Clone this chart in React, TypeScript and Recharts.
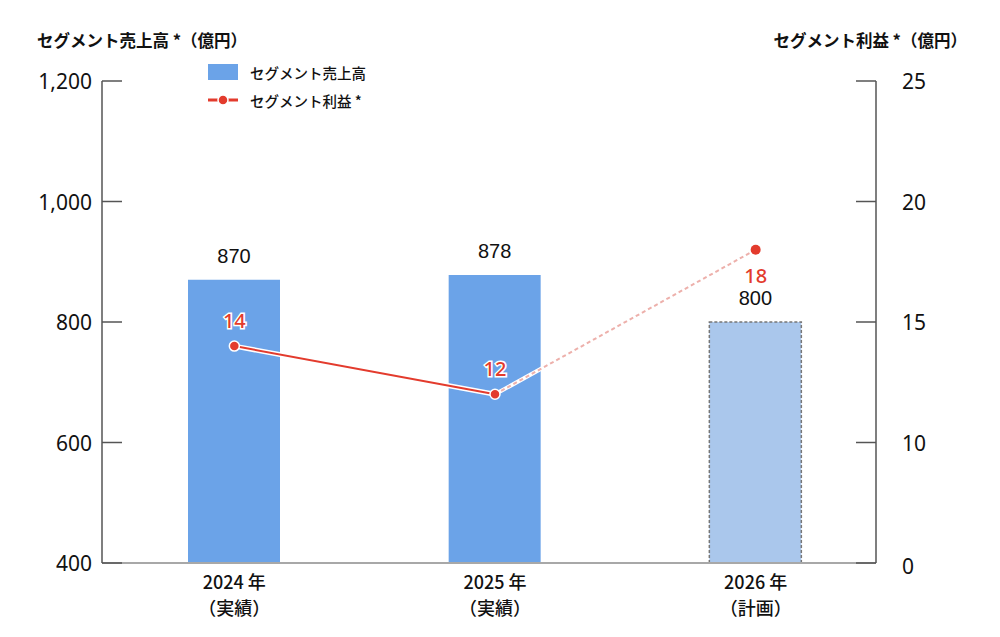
import React from 'react';
import {
  ComposedChart,
  Bar,
  Line,
  Cell,
  XAxis,
  YAxis,
  LabelList,
} from 'recharts';

const categories = ['2024 年', '2025 年', '2026 年'];
const periodNotes = ['（実績）', '（実績）', '（計画）'];
const sales = [870, 878, 800];
const profit = [14, 12, 18];
const isPlan = [false, false, true];

const salesTicks = [400, 600, 800, 1000, 1200];
const profitTicks = [5, 10, 15, 20, 25];
const profitTickLabels = ['0', '10', '15', '20', '25'];

const lastActual = isPlan.lastIndexOf(false);

const data = categories.map((c, i) => ({
  name: c,
  sales: sales[i],
  actual: isPlan[i] ? null : profit[i],
  plan: isPlan[i] || i === lastActual ? profit[i] : null,
}));

const FONT = '"Noto Sans CJK JP", "Noto Sans", sans-serif';
const NUM_FONT = '"Noto Sans", "Open Sans", sans-serif';
const BLUE = '#6BA3E8';
const BLUE_PLAN = '#AAC7EC';
const RED = '#E33B2D';
const PINK = '#EDB0AB';
const AXIS = '#555';

const LeftTick = (props: any) => {
  const { x, y, payload } = props;
  const ax = x + 10;
  return (
    <g>
      <line x1={ax} x2={ax + 20} y1={y} y2={y} stroke={AXIS} strokeWidth={1.5} />
      <text x={x} y={y} dy={8} textAnchor="end" fontSize={21} fill="#111" fontFamily={NUM_FONT}>
        {payload.value.toLocaleString('en-US')}
      </text>
    </g>
  );
};

const RightTick = (props: any) => {
  const { x, y, payload, index } = props;
  const ax = x - 26;
  return (
    <g>
      <line x1={ax - 20} x2={ax} y1={y} y2={y} stroke={AXIS} strokeWidth={1.5} />
      <text x={x} y={y} dy={payload.value === 5 ? 11 : 8} textAnchor="start" fontSize={21} fill="#111" fontFamily={NUM_FONT}>
        {profitTickLabels[index]}
      </text>
    </g>
  );
};

const CategoryTick = (props: any) => {
  const { x, y, payload, index } = props;
  return (
    <g>
      <text x={x} y={y} dy={18} textAnchor="middle" fontSize={18} fontWeight={500} fill="#111" fontFamily={FONT}>
        {payload.value}
      </text>
      <text x={x} y={y} dy={44} textAnchor="middle" fontSize={18} fontWeight={500} fill="#111" fontFamily={FONT}>
        {periodNotes[index]}
      </text>
    </g>
  );
};

const ProfitLabel = (props: any) => {
  const { x, y, value, index } = props;
  if (value == null) return null;
  const below = isPlan[index];
  return (
    <text
      x={x}
      y={below ? y + 33 : y - 18}
      textAnchor="middle"
      fontSize={20}
      fontWeight={500}
      fill={RED}
      stroke={below ? 'none' : '#fff'}
      strokeWidth={3}
      paintOrder="stroke"
      fontFamily={NUM_FONT}
    >
      {value}
    </text>
  );
};

const PlanDot = (props: any) => {
  const { cx, cy, index } = props;
  if (!isPlan[index]) return null;
  return <circle key={index} cx={cx} cy={cy} r={5} fill={RED} />;
};

export default function App() {
  return (
    <div
      style={{
        position: 'absolute',
        top: 0,
        left: 0,
        width: 1000,
        height: 637,
        background: '#fff',
        fontFamily: FONT,
      }}
    >
      {/* axis titles */}
      <div style={{ position: 'absolute', left: 37, top: 28, fontSize: 16.5, fontWeight: 600, color: '#111' }}>
        セグメント売上高 *（億円）
      </div>
      <div style={{ position: 'absolute', right: 33, top: 28, fontSize: 16.5, fontWeight: 600, color: '#111' }}>
        セグメント利益 *（億円）
      </div>

      {/* legend */}
      <div style={{ position: 'absolute', left: 208, top: 62, fontSize: 14.5, fontWeight: 500, color: '#111' }}>
        <div style={{ display: 'flex', alignItems: 'center', height: 20 }}>
          <span style={{ width: 30, height: 16, background: BLUE, display: 'inline-block', marginRight: 12 }} />
          セグメント売上高
        </div>
        <div style={{ display: 'flex', alignItems: 'center', height: 20, marginTop: 8 }}>
          <svg width={30} height={12} style={{ marginRight: 12 }}>
            <line x1={0} x2={30} y1={6} y2={6} stroke={RED} strokeWidth={3} />
            <circle cx={15} cy={6} r={5} fill={RED} stroke="#fff" strokeWidth={1.5} />
          </svg>
          セグメント利益 *
        </div>
      </div>

      <ComposedChart
        width={1000}
        height={637}
        data={data}
        margin={{ top: 81, right: 64, bottom: 14, left: 0 }}
        barCategoryGap={0}
      >
        <XAxis
          dataKey="name"
          height={60}
          padding={{ left: 2, right: -10 }}
          axisLine={{ stroke: '#A8A8A8', strokeWidth: 2 }}
          tickLine={false}
          tick={<CategoryTick />}
          interval={0}
        />
        <YAxis
          yAxisId="left"
          orientation="left"
          width={102}
          domain={[400, 1200]}
          ticks={salesTicks}
          allowDataOverflow
          axisLine={{ stroke: AXIS, strokeWidth: 1.5 }}
          tickLine={false}
          tickSize={0}
          tickMargin={10}
          tick={<LeftTick />}
        />
        <YAxis
          yAxisId="right"
          orientation="right"
          width={60}
          domain={[5, 25]}
          ticks={profitTicks}
          allowDataOverflow
          axisLine={{ stroke: AXIS, strokeWidth: 1.5 }}
          tickLine={false}
          tickSize={0}
          tickMargin={26}
          tick={<RightTick />}
        />
        <Bar dataKey="sales" yAxisId="left" barSize={92} isAnimationActive={false}>
          {data.map((d, i) => (
            <Cell
              key={d.name}
              fill={isPlan[i] ? BLUE_PLAN : BLUE}
              stroke={isPlan[i] ? '#777' : 'none'}
              strokeWidth={isPlan[i] ? 1.5 : 0}
              strokeDasharray={isPlan[i] ? '3 2' : undefined}
            />
          ))}
          <LabelList
            dataKey="sales"
            position="top"
            offset={17}
            fontSize={20}
            fill="#111"
            fontFamily='"Liberation Sans", Arial, sans-serif'
          />
        </Bar>
        {/* plan segment: white underlay then pink dashes */}
        <Line
          dataKey="plan"
          yAxisId="right"
          stroke="#fff"
          strokeWidth={4}
          dot={false}
          activeDot={false}
          isAnimationActive={false}
        />
        <Line
          dataKey="plan"
          yAxisId="right"
          stroke={PINK}
          strokeWidth={2}
          strokeDasharray="4 3"
          dot={<PlanDot />}
          activeDot={false}
          isAnimationActive={false}
        >
          <LabelList dataKey="plan" content={(p: any) => (isPlan[p.index] ? <ProfitLabel {...p} /> : null)} />
        </Line>
        {/* actual segment: white outline then red */}
        <Line
          dataKey="actual"
          yAxisId="right"
          stroke="#fff"
          strokeWidth={5}
          dot={false}
          activeDot={false}
          isAnimationActive={false}
        />
        <Line
          dataKey="actual"
          yAxisId="right"
          stroke={RED}
          strokeWidth={2}
          dot={{ r: 5, fill: RED, stroke: '#fff', strokeWidth: 1.5 }}
          activeDot={false}
          isAnimationActive={false}
        >
          <LabelList dataKey="actual" content={<ProfitLabel />} />
        </Line>
      </ComposedChart>
    </div>
  );
}
